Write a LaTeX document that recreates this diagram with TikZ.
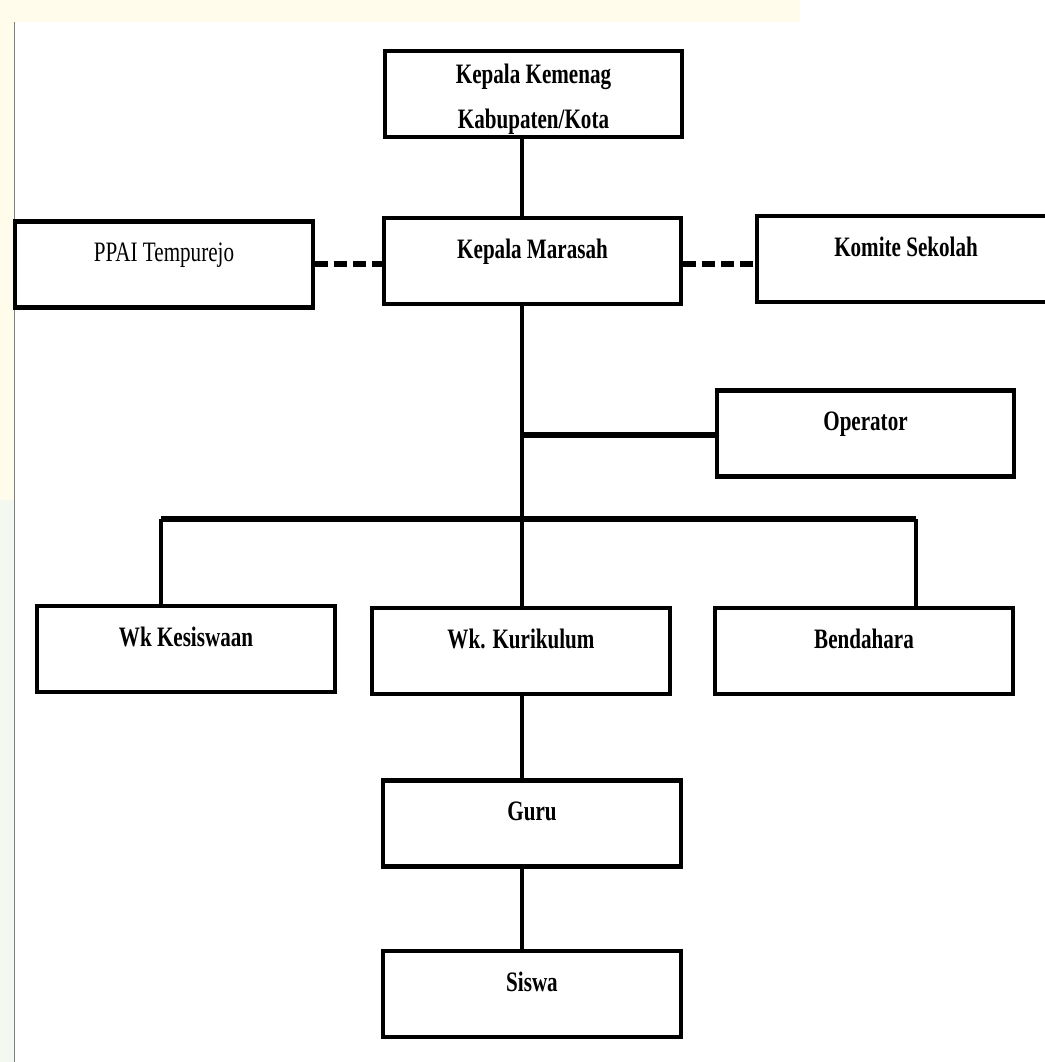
\documentclass[tikz,border=0pt]{standalone}
\usepackage{fontspec}
\setmainfont{Liberation Serif}[FakeStretch=0.75]
\usepackage{xcolor}
\usepackage{tikz}

\definecolor{wmyellow}{HTML}{FFFCEB}
\definecolor{wmgreen}{HTML}{F3F8F1}

\tikzset{
	unit/.style={draw=black, line width=2.3pt, minimum width=5.95cm, minimum height=1.72cm, inner ysep=0pt, font=\fontsize{16}{19}\selectfont\bfseries},
	toptext/.style={text height=0.8cm, text depth=0.92cm},
	link/.style={line width=2.3pt},
	bar/.style={line width=3.2pt},
	tie/.style={line width=3pt, dash pattern=on 0.26cm off 0.12cm}
}

\begin{document}
\begin{tikzpicture}
	\useasboundingbox (0,0) rectangle (20.9,-21.24);
	\fill[wmyellow] (0,0) rectangle (16,-0.44);
	\fill[wmyellow] (0,-0.44) rectangle (0.28,-10);
	\fill[wmgreen] (0,-10) rectangle (0.28,-21.24);
	\draw[gray, thin] (0.28,-0.44) -- (0.28,-21.24);
	
	\coordinate (trunk) at (10.44,0);
	\coordinate (bar) at (10.44,-10.38);
	\coordinate (barL) at (3.22,-10.38);
	\coordinate (barR) at (18.32,-10.38);
	
	\node[unit, align=center, text height=1.54cm, text depth=0.18cm] (kemenag) at (10.67,-1.88) {Kepala Kemenag\\[0.23cm]Kabupaten/Kota};
	\node[unit, toptext] (marasah) at (10.65,-5.22) {Kepala Marasah};
	\node[unit, toptext, font=\fontsize{16}{19}\selectfont] (ppai) at (3.28,-5.29) {PPAI Tempurejo};
	\node[unit, toptext] (komite) at (18.12,-5.18) {Komite Sekolah};
	\node[unit, toptext] (operator) at (17.31,-8.67) {Operator};
	\node[unit, toptext] (wkkes) at (3.72,-12.98) {Wk Kesiswaan};
	\node[unit, toptext] (wkkur) at (10.42,-13.02) {Wk. Kurikulum};
	\node[unit, toptext] (bendahara) at (17.28,-13.02) {Bendahara};
	\node[unit, toptext] (guru) at (10.64,-16.47) {Guru};
	\node[unit, toptext] (siswa) at (10.64,-19.88) {Siswa};
	
	\draw[link] (kemenag.south -| trunk) -- (marasah.north -| trunk);
	\draw[tie] (ppai.east |- 0,-5.28) -- (marasah.west |- 0,-5.28);
	\draw[tie] (marasah.east |- 0,-5.28) -- (komite.west |- 0,-5.28);
	\draw[link] (marasah.south -| trunk) -- (wkkur.north -| trunk);
	\draw[bar] (operator.west |- 0,-8.7) -- (trunk |- 0,-8.7);
	\draw[bar] (barL) -- (barR);
	\draw[link] (barL) -- (wkkes.north -| barL);
	\draw[link] (barR) -- (bendahara.north -| barR);
	\draw[link] (wkkur.south -| trunk) -- (guru.north -| trunk);
	\draw[link] (guru.south -| trunk) -- (siswa.north -| trunk);
\end{tikzpicture}
\end{document}
